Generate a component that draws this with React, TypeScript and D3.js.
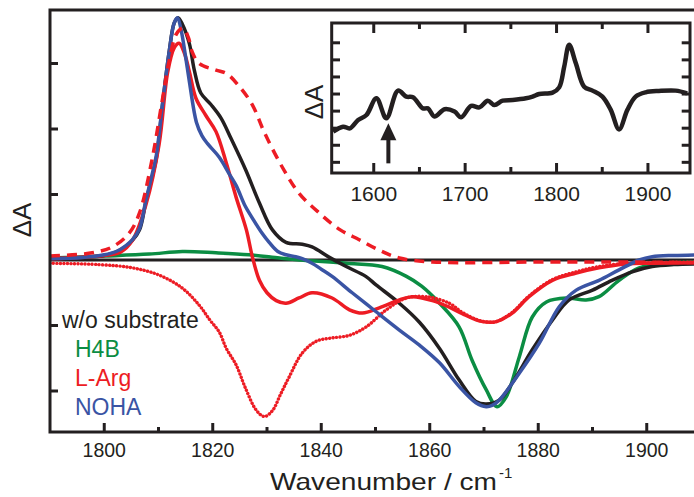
import React from "react";
import * as d3 from "d3";

// ---------- data ----------
const blackData: [number, number][] = [[1790,0.02],[1796,0.04],[1800,0.07],[1802.2,0.12],[1805.2,0.3],[1806.5,0.46],[1807.7,0.9],[1809.6,1.55],[1810.7,2.35],[1812,3.2],[1812.9,3.62],[1813.6,3.7],[1814.4,3.6],[1815.7,3.3],[1816.6,2.9],[1817.8,2.55],[1819.7,2.37],[1821.5,2.17],[1823.4,1.85],[1826.1,1.37],[1828.6,0.87],[1831,0.46],[1833.5,0.27],[1836.5,0.24],[1838.3,0.2],[1841.5,0.04],[1844.6,-0.1],[1848.2,-0.25],[1850.1,-0.38],[1854.4,-0.66],[1858.1,-0.95],[1861.8,-1.35],[1865.4,-1.83],[1868.5,-2.16],[1870.4,-2.2],[1872.8,-2.14],[1875.2,-1.88],[1878.9,-1.37],[1882.6,-0.92],[1885.7,-0.61],[1890,-0.46],[1893.6,-0.31],[1897.3,-0.18],[1901,-0.1],[1905,-0.07],[1910,-0.06]];

const blueData: [number, number][] = [[1790,0.02],[1796,0.04],[1800,0.08],[1802.2,0.13],[1804,0.22],[1805.2,0.31],[1806.5,0.48],[1807.7,0.92],[1808.8,1.3],[1809.6,1.6],[1810.7,2.35],[1812,3.2],[1812.9,3.62],[1813.5,3.7],[1814.2,3.5],[1815,3.1],[1815.7,2.72],[1817,2.1],[1818,1.9],[1819,1.78],[1821.2,1.57],[1823,1.32],[1824.3,1.14],[1826,0.82],[1827.3,0.64],[1829,0.42],[1830.4,0.27],[1832,0.13],[1833.5,0.08],[1835.3,0.05],[1836.5,0.02],[1838.3,-0.05],[1840,-0.14],[1842,-0.25],[1845.7,-0.5],[1850.1,-0.79],[1854.4,-1.07],[1858.1,-1.3],[1861.8,-1.57],[1865.4,-1.93],[1868.5,-2.18],[1870.4,-2.24],[1871.5,-2.22],[1872.8,-2.14],[1876.5,-1.73],[1880.2,-1.27],[1883.9,-0.71],[1887,-0.46],[1891.2,-0.31],[1894.9,-0.15],[1898.6,0.0],[1901,0.05],[1905,0.07],[1910,0.08]];

const greenData: [number, number][] = [[1790,0.03],[1800,0.06],[1808.3,0.09],[1814.4,0.13],[1820.6,0.11],[1826.7,0.08],[1832.3,0.03],[1836,0.0],[1844.6,-0.05],[1851.2,-0.1],[1855.7,-0.25],[1858.5,-0.4],[1861.8,-0.66],[1865.4,-1.02],[1867.8,-1.53],[1870.4,-1.98],[1872.4,-2.24],[1874.1,-2.09],[1876.5,-1.48],[1878.9,-0.87],[1881.5,-0.64],[1885.2,-0.58],[1888.8,-0.61],[1891.2,-0.56],[1894.9,-0.31],[1898.6,-0.12],[1903.6,-0.05],[1910,-0.03]];

const redData: [number, number][] = [[1790,0.02],[1800,0.07],[1803,0.12],[1805.2,0.3],[1807.7,0.85],[1810.1,1.76],[1811.7,2.87],[1812.9,3.24],[1813.8,3.31],[1814.8,3.15],[1815.7,2.87],[1816.9,2.47],[1818.7,2.21],[1820.6,1.96],[1822.5,1.48],[1824.3,0.96],[1826.2,0.46],[1827.3,0.05],[1828.6,-0.31],[1830,-0.5],[1831.7,-0.62],[1833.5,-0.66],[1835.9,-0.58],[1838.3,-0.5],[1842,-0.58],[1845.2,-0.76],[1847.6,-0.81],[1850.7,-0.73],[1854.4,-0.61],[1856.8,-0.56],[1860.5,-0.62],[1863.6,-0.72],[1866,-0.82],[1869.1,-0.93],[1871,-0.95],[1872.3,-0.94],[1875.2,-0.81],[1878.3,-0.56],[1882.6,-0.31],[1887,-0.2],[1891.2,-0.12],[1896.2,-0.06],[1901,-0.05],[1910,-0.04]];

const redDottedData: [number, number][] = [[1790,-0.05],[1799,-0.07],[1805.2,-0.12],[1810.1,-0.23],[1814.4,-0.43],[1817.5,-0.69],[1819.5,-0.92],[1821.2,-1.1],[1822.5,-1.35],[1824.3,-1.6],[1826,-1.95],[1828,-2.29],[1829.5,-2.39],[1831,-2.3],[1832.5,-2.05],[1834,-1.8],[1836.5,-1.42],[1839.1,-1.24],[1842,-1.19],[1845.2,-1.15],[1848.3,-1.02],[1852,-0.76],[1855.7,-0.58],[1859.4,-0.56],[1863.6,-0.66],[1866,-0.8],[1869,-0.92],[1871,-0.95],[1872.3,-0.94],[1875.2,-0.8],[1878.3,-0.55],[1882.6,-0.3],[1887,-0.18],[1891.2,-0.1],[1896.2,-0.05],[1901,-0.04],[1910,-0.03]];

const redDashedData: [number, number][] = [[1790,0.06],[1797.8,0.11],[1801.5,0.2],[1804.6,0.41],[1806.5,0.72],[1808.8,1.53],[1810.7,2.44],[1812,3.05],[1813.3,3.45],[1814.5,3.54],[1815.5,3.4],[1816.2,3.18],[1817.5,3.0],[1820.6,2.9],[1822.5,2.85],[1824.9,2.65],[1827.3,2.37],[1829.5,1.95],[1832.8,1.42],[1835.9,1.02],[1839.6,0.72],[1843.5,0.46],[1847,0.31],[1850.7,0.15],[1854.4,0.03],[1860.5,-0.03],[1882,-0.03],[1895,-0.03],[1910,-0.04]];

const insetWn = [1555.6,1566.5,1573.8,1582.9,1592,1602.9,1613.8,1626.5,1635.6,1642.9,1653.8,1659.3,1666.5,1677.5,1688.4,1695.6,1706.5,1715.6,1724.7,1732,1741.1,1752,1766.5,1773.8,1781.1,1795.6,1802.9,1808.4,1813.8,1821.1,1830.2,1839.3,1850.2,1859.3,1868.4,1877.5,1886.5,1897.5,1912,1930.2,1942.9];
const insetDA = [2.8,3.09,2.99,3.48,3.77,4.75,3.58,5.2,4.85,4.81,4.16,4.16,3.68,4.11,3.97,3.64,4.3,4.22,4.61,4.36,4.61,4.65,4.75,4.85,5.0,5.08,5.39,6.61,7.88,6.8,5.43,5.2,4.85,4.07,2.93,4.07,4.85,5.1,5.18,5.2,5.04];

const xTicksMajor = [1800, 1820, 1840, 1860, 1880, 1900];
const xTicksMinor = [1810, 1830, 1850, 1870, 1890];
const yTicks = [-2, -1, 1, 2, 3];
const insetXTicksMajor = [1600, 1700, 1800, 1900];
const insetXTicksMinor = [1650, 1750, 1850];
const insetYTicks = [1, 2, 3, 4, 5, 6, 7, 8];
const legendLabels = ["H4B", "L-Arg", "NOHA"];
const arrowWn = 1616;

const INK = "#231f20";
const GREEN = "#0b8d43";
const RED = "#ed1c24";
const BLUE = "#3a54a4";
const FONT = "'Liberation Sans', Arial, sans-serif";

export default function App() {
  const x = d3.scaleLinear().domain([1790, 1910]).range([50, 701]);
  const y = d3.scaleLinear().domain([-2.626, 3.817]).range([432, 10]);
  const line = d3
    .line<[number, number]>()
    .x((d) => x(d[0]))
    .y((d) => y(d[1]))
    .curve(d3.curveCatmullRom.alpha(0.5));

  const ix = d3.scaleLinear().domain([1554, 1946]).range([331.7, 690]);
  const iy = d3.scaleLinear().domain([0.375, 9.16]).range([173, 23]);
  const insetPts: [number, number][] = insetWn.map((w, i) => [w, insetDA[i]]);
  const iline = d3
    .line<[number, number]>()
    .x((d) => ix(d[0]))
    .y((d) => iy(d[1]))
    .curve(d3.curveCatmullRom.alpha(0.5));

  const x0 = 50, x1 = 701, y0 = 10, y1 = 432;
  const ax = ix(arrowWn);
  const tipY = iy(3.29);
  const headY = tipY + 17;
  const tailY = iy(0.94);

  return (
    <svg
      width={694}
      height={497}
      style={{ position: "absolute", left: 0, top: 0, background: "#fff" }}
      fontFamily={FONT}
    >
      <defs>
        <clipPath id="plotclip">
          <rect x={x0} y={y0} width={x1 - x0} height={y1 - y0} />
        </clipPath>
      </defs>

      {/* zero line */}
      <line x1={x0} x2={x1} y1={y(0)} y2={y(0)} stroke={INK} strokeWidth={3} />

      <g clipPath="url(#plotclip)" fill="none" strokeLinejoin="round">
        <path d={line(greenData) || ""} stroke={GREEN} strokeWidth={3.5} />
        <path d={line(blackData) || ""} stroke={INK} strokeWidth={3.5} />
        <path d={line(redData) || ""} stroke={RED} strokeWidth={3.5} />
        <path
          d={line(redDottedData) || ""}
          stroke={RED}
          strokeWidth={3.4}
          strokeDasharray="0.1 3.4"
          strokeLinecap="round"
        />
        <path d={line(blueData) || ""} stroke={BLUE} strokeWidth={3.5} />
        <path
          d={line(redDashedData) || ""}
          stroke={RED}
          strokeWidth={3.5}
          strokeDasharray="10 7"
        />
      </g>

      {/* frame */}
      <rect x={x0} y={y0} width={x1 - x0} height={y1 - y0} fill="none" stroke={INK} strokeWidth={3} />

      {/* y ticks */}
      {yTicks.map((t) => (
        <line key={"yt" + t} x1={x0} x2={x0 + 8} y1={y(t)} y2={y(t)} stroke={INK} strokeWidth={3} />
      ))}
      {/* x ticks */}
      {xTicksMajor.map((t) => (
        <g key={"xt" + t}>
          <line x1={x(t)} x2={x(t)} y1={y1} y2={y1 - 9} stroke={INK} strokeWidth={3} />
          <text x={x(t)} y={457} textAnchor="middle" fontSize={19.5} fill={INK}>
            {t}
          </text>
        </g>
      ))}
      {xTicksMinor.map((t) => (
        <line key={"xm" + t} x1={x(t)} x2={x(t)} y1={y1} y2={y1 - 5} stroke={INK} strokeWidth={3} />
      ))}

      {/* axis titles */}
      <text
        transform={`translate(31,220) rotate(-90)`}
        textAnchor="middle"
        fontSize={26}
        fill={INK}
      >
        ΔA
      </text>
      <text x={270} y={490} fontSize={24} fill={INK} textLength={227} lengthAdjust="spacingAndGlyphs">
        Wavenumber / cm
      </text>
      <text x={499} y={478} fontSize={15} fill={INK}>
        -1
      </text>

      {/* legend */}
      <text x={62} y={328} fontSize={23} fill={INK}>
        w/o substrate
      </text>
      {legendLabels.map((l, i) => (
        <text
          key={l}
          x={75}
          y={357 + i * 29}
          fontSize={23}
          fill={[GREEN, RED, BLUE][i]}
        >
          {l}
        </text>
      ))}

      {/* inset */}
      <rect x={331.7} y={23} width={690 - 331.7} height={150} fill="#fff" stroke="none" />
      <path d={iline(insetPts) || ""} fill="none" stroke={INK} strokeWidth={4.5} strokeLinejoin="round" />
      <rect x={331.7} y={23} width={690 - 331.7} height={150} fill="none" stroke={INK} strokeWidth={3} />
      {insetYTicks.map((t) => (
        <g key={"iy" + t}>
          <line x1={331.7} x2={340} y1={iy(t)} y2={iy(t)} stroke={INK} strokeWidth={3} />
          <line x1={690} x2={681.7} y1={iy(t)} y2={iy(t)} stroke={INK} strokeWidth={3} />
        </g>
      ))}
      {insetXTicksMajor.map((t) => (
        <g key={"ix" + t}>
          <line x1={ix(t)} x2={ix(t)} y1={173} y2={163} stroke={INK} strokeWidth={3} />
          <line x1={ix(t)} x2={ix(t)} y1={23} y2={33} stroke={INK} strokeWidth={3} />
          <text x={ix(t)} y={201} textAnchor="middle" fontSize={21} fill={INK}>
            {t}
          </text>
        </g>
      ))}
      {insetXTicksMinor.map((t) => (
        <g key={"im" + t}>
          <line x1={ix(t)} x2={ix(t)} y1={173} y2={167} stroke={INK} strokeWidth={3} />
          <line x1={ix(t)} x2={ix(t)} y1={23} y2={29} stroke={INK} strokeWidth={3} />
        </g>
      ))}
      <text
        transform={`translate(323,102) rotate(-90)`}
        textAnchor="middle"
        fontSize={26}
        fill={INK}
      >
        ΔA
      </text>
      {/* arrow */}
      <line x1={ax} x2={ax} y1={tailY} y2={headY - 1} stroke={INK} strokeWidth={4} />
      <path d={`M${ax},${tipY} L${ax - 8},${headY} L${ax + 8},${headY} Z`} fill={INK} />
    </svg>
  );
}
